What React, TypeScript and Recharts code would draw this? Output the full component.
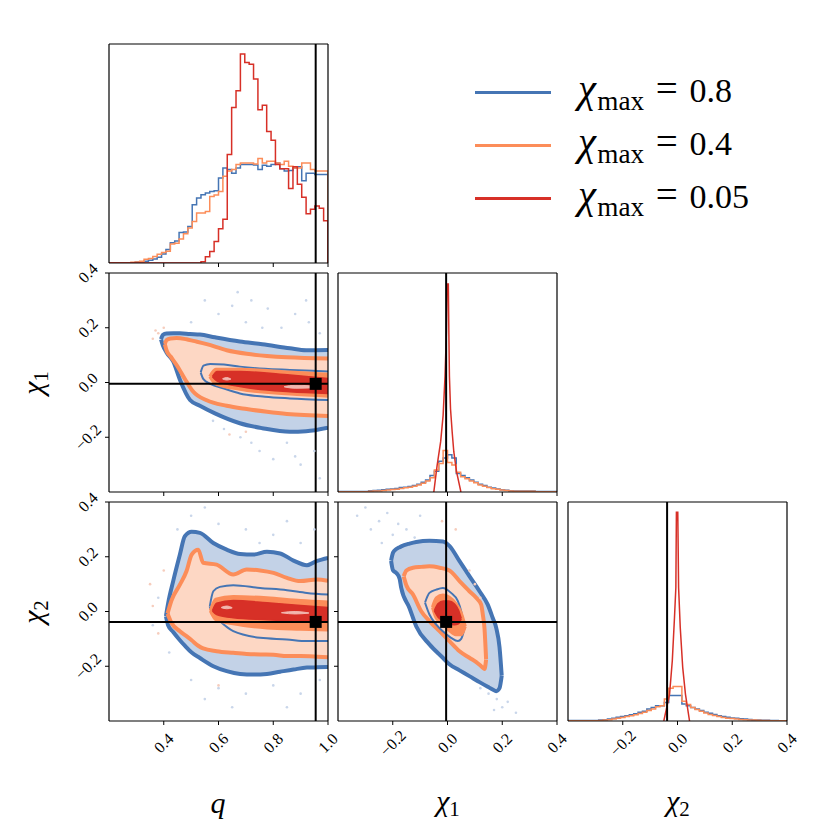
import React from "react";
import {Area, ComposedChart, Line, ReferenceLine, Scatter, XAxis, YAxis} from "recharts";

const FONT = '"Liberation Serif", "DejaVu Serif", serif';
const BLUE = "#4575b4";
const ORANGE = "#fc8d59";
const RED = "#d73027";
const BLUE_FILL = "#c3d2e7";
const ORANGE_FILL = "#fdd7c4";
const PINK = "#f2b6ae";

// axes
const Q_DOMAIN: [number, number] = [0.2, 1.0];
const CHI_DOMAIN: [number, number] = [-0.4, 0.4];
const HIST_DOMAIN: [number, number] = [0, 1];
const Q_TICKS = [0.4, 0.6, 0.8, 1.0];
const CHI_TICKS = [-0.2, 0.0, 0.2, 0.4];

// injected values
const TRUTH_Q = 0.955;
const TRUTH_CHI1 = -0.005;
const TRUTH_CHI2 = -0.038;

// histogram binning
const Q_BIN_START = 0.2;
const CHI_BIN_START = -0.4;
const BIN_WIDTH = 0.016;

const qBlue = [0, 0, 0, 0, 0, 0, 0.004, 0.006, 0.008, 0.012, 0.018, 0.026, 0.041, 0.062, 0.093, 0.1, 0.139, 0.142, 0.167, 0.266, 0.297, 0.312, 0.32, 0.327, 0.33, 0.388, 0.434, 0.427, 0.41, 0.434, 0.45, 0.45, 0.45, 0.447, 0.427, 0.446, 0.442, 0.45, 0.457, 0.43, 0.42, 0.422, 0.434, 0.44, 0.376, 0.41, 0.41, 0.404, 0.404, 0.404];
const qOrange = [0, 0, 0, 0, 0, 0.003, 0.005, 0.008, 0.017, 0.02, 0.03, 0.04, 0.048, 0.054, 0.087, 0.09, 0.11, 0.133, 0.16, 0.19, 0.228, 0.228, 0.235, 0.304, 0.31, 0.327, 0.396, 0.42, 0.427, 0.45, 0.457, 0.457, 0.457, 0.452, 0.477, 0.457, 0.465, 0.465, 0.457, 0.45, 0.465, 0.442, 0.434, 0.434, 0.457, 0.457, 0.427, 0.42, 0.42, 0.42];
const qRed = [0, 0, 0, 0, 0, 0, 0, 0, 0, 0, 0, 0, 0, 0, 0, 0, 0, 0, 0, 0, 0, 0.006, 0.029, 0.052, 0.098, 0.156, 0.2, 0.495, 0.71, 0.786, 0.954, 0.916, 0.908, 0.84, 0.7, 0.72, 0.6, 0.56, 0.45, 0.43, 0.43, 0.34, 0.44, 0.36, 0.3, 0.225, 0.246, 0.26, 0.25, 0.193];

const chi1Blue = [0.002, 0.002, 0.002, 0.002, 0.002, 0.002, 0.002, 0.006, 0.007, 0.008, 0.01, 0.012, 0.014, 0.016, 0.02, 0.022, 0.025, 0.03, 0.035, 0.045, 0.055, 0.075, 0.095, 0.14, 0.155, 0.17, 0.155, 0.085, 0.075, 0.065, 0.055, 0.045, 0.035, 0.03, 0.022, 0.018, 0.014, 0.01, 0.008, 0.006, 0.004, 0.004, 0.004, 0.004, 0.004, 0.002, 0.002, 0.002, 0.002, 0.002];
const chi1Orange = [0.001, 0.001, 0.001, 0.001, 0.001, 0.001, 0.001, 0.003, 0.004, 0.005, 0.007, 0.009, 0.011, 0.013, 0.016, 0.019, 0.022, 0.026, 0.032, 0.04, 0.05, 0.065, 0.1, 0.13, 0.19, 0.135, 0.123, 0.09, 0.07, 0.06, 0.05, 0.042, 0.032, 0.026, 0.02, 0.015, 0.012, 0.009, 0.007, 0.005, 0.003, 0.003, 0.003, 0.003, 0.003, 0.001, 0.001, 0.001, 0.001, 0.001];
const chi2Blue = [0.002, 0.002, 0.002, 0.002, 0.002, 0.002, 0.002, 0.004, 0.006, 0.009, 0.012, 0.017, 0.02, 0.024, 0.028, 0.033, 0.04, 0.045, 0.055, 0.062, 0.07, 0.07, 0.085, 0.116, 0.116, 0.116, 0.078, 0.07, 0.062, 0.055, 0.048, 0.04, 0.035, 0.03, 0.024, 0.02, 0.017, 0.014, 0.012, 0.01, 0.009, 0.007, 0.005, 0.004, 0.003, 0.003, 0.002, 0.002, 0.001, 0.001];
const chi2Orange = [0.001, 0.001, 0.001, 0.001, 0.001, 0.001, 0.001, 0.002, 0.004, 0.006, 0.009, 0.013, 0.016, 0.02, 0.024, 0.028, 0.034, 0.04, 0.048, 0.055, 0.065, 0.07, 0.1, 0.15, 0.157, 0.157, 0.09, 0.075, 0.062, 0.052, 0.044, 0.037, 0.03, 0.025, 0.02, 0.016, 0.013, 0.011, 0.009, 0.007, 0.006, 0.005, 0.004, 0.003, 0.002, 0.002, 0.001, 0.001, 0.001, 0.001];

// the chi_max = 0.05 run has very fine bins: read as a curve
const chi1RedX = [-0.05, -0.038, -0.025, -0.016, -0.009, -0.004, -0.0015, 0.003, 0.005, 0.007, 0.011, 0.017, 0.023, 0.033, 0.049];
const chi1RedY = [0, 0.12, 0.23, 0.35, 0.53, 0.73, 0.95, 0.95, 0.72, 0.53, 0.38, 0.275, 0.184, 0.093, 0];
const chi2RedX = [-0.05, -0.029, -0.019, -0.011, -0.006, -0.004, 0.001, 0.004, 0.01, 0.019, 0.029, 0.044];
const chi2RedY = [0, 0.123, 0.275, 0.473, 0.61, 0.953, 0.953, 0.61, 0.428, 0.245, 0.123, 0];

// contours: [x, lower y, upper y]
const blueOuterA = [[0.39, 0.157, 0.158], [0.397, 0.135, 0.174], [0.41, 0.11, 0.179], [0.435, 0.076, 0.18], [0.459, 0.01, 0.18], [0.496, -0.064, 0.177], [0.532, -0.085, 0.175], [0.587, -0.113, 0.165], [0.678, -0.149, 0.15], [0.76, -0.167, 0.14], [0.861, -0.18, 0.125], [0.92, -0.178, 0.118], [1.0, -0.165, 0.119]];
const orangeOuterA = [[0.404, 0.14, 0.141], [0.411, 0.115, 0.156], [0.425, 0.095, 0.161], [0.447, 0.064, 0.163], [0.483, 0.003, 0.158], [0.508, -0.034, 0.152], [0.557, -0.065, 0.14], [0.63, -0.085, 0.118], [0.703, -0.097, 0.105], [0.777, -0.107, 0.097], [0.85, -0.115, 0.092], [1.0, -0.122, 0.088]];
const blueInnerA = [[0.535, 0.036, 0.037], [0.545, 0.012, 0.062], [0.57, -0.005, 0.068], [0.62, -0.022, 0.066], [0.678, -0.04, 0.058], [0.77, -0.052, 0.05], [0.861, -0.058, 0.046], [1.0, -0.064, 0.04]];
const orangeInnerA = [[0.568, 0.021, 0.022], [0.59, -0.005, 0.048], [0.678, -0.025, 0.048], [0.861, -0.042, 0.038], [1.0, -0.05, 0.03]];
const redA = [[0.578, 0.021, 0.022], [0.595, 0.005, 0.04], [0.678, -0.015, 0.04], [0.861, -0.034, 0.027], [1.0, -0.04, 0.015]];
const pinkA1 = [[0.615, 0.013, 0.014], [0.63, 0.009, 0.018], [0.645, 0.012, 0.013]];
const pinkA2 = [[0.84, -0.016, -0.015], [0.88, -0.021, -0.01], [0.93, -0.02, -0.012], [0.95, -0.017, -0.016]];

const blueOuterB = [[0.408, -0.018, -0.017], [0.416, -0.05, 0.03], [0.4345, -0.075, 0.111], [0.459, -0.105, 0.208], [0.477, -0.125, 0.275], [0.502, -0.15, 0.291], [0.532, -0.17, 0.287], [0.581, -0.2, 0.25], [0.63, -0.218, 0.226], [0.679, -0.228, 0.21], [0.728, -0.23, 0.208], [0.777, -0.228, 0.218], [0.825, -0.22, 0.212], [0.874, -0.212, 0.186], [0.923, -0.205, 0.169], [0.96, -0.204, 0.185], [1.0, -0.203, 0.196]];
const orangeOuterB = [[0.414, -0.008, -0.007], [0.428, -0.041, 0.04], [0.459, -0.072, 0.098], [0.483, -0.09, 0.147], [0.502, -0.105, 0.208], [0.526, -0.125, 0.226], [0.544, -0.135, 0.178], [0.593, -0.145, 0.171], [0.654, -0.151, 0.135], [0.703, -0.155, 0.153], [0.752, -0.157, 0.15], [0.801, -0.158, 0.141], [0.85, -0.163, 0.123], [0.899, -0.163, 0.111], [0.96, -0.165, 0.117], [1.0, -0.167, 0.112]];
const blueInnerB = [[0.568, 0.017, 0.018], [0.581, -0.01, 0.074], [0.605, -0.035, 0.09], [0.654, -0.072, 0.096], [0.752, -0.096, 0.086], [0.85, -0.102, 0.078], [0.923, -0.108, 0.068], [1.0, -0.108, 0.062]];
const orangeInnerB = [[0.57, 0.002, 0.003], [0.59, -0.03, 0.045], [0.654, -0.045, 0.055], [0.777, -0.06, 0.05], [0.9, -0.065, 0.04], [1.0, -0.068, 0.035]];
const redB = [[0.578, 0.002, 0.003], [0.593, -0.011, 0.03], [0.654, -0.023, 0.04], [0.777, -0.03, 0.032], [0.9, -0.035, 0.022], [1.0, -0.037, 0.015]];
const pinkB1 = [[0.61, 0.014, 0.015], [0.63, 0.01, 0.02], [0.65, 0.013, 0.014]];
const pinkB2 = [[0.83, -0.005, -0.004], [0.88, -0.009, 0.0], [0.93, -0.006, -0.005]];

const blueOuterC = [[-0.206, 0.185, 0.186], [-0.199, 0.15, 0.215], [-0.187, 0.141, 0.228], [-0.175, 0.12, 0.235], [-0.169, 0.086, 0.238], [-0.139, 0.013, 0.248], [-0.114, -0.055, 0.254], [-0.066, -0.12, 0.258], [-0.017, -0.169, 0.256], [0.007, -0.193, 0.24], [0.044, -0.215, 0.184], [0.08, -0.236, 0.129], [0.117, -0.258, 0.074], [0.147, -0.275, 0.025], [0.165, -0.285, -0.023], [0.178, -0.291, -0.06], [0.19, -0.28, -0.13], [0.198, -0.235, -0.234]];
const orangeOuterC = [[-0.16, 0.128, 0.129], [-0.15, 0.095, 0.15], [-0.126, 0.062, 0.16], [-0.096, 0.001, 0.163], [-0.066, -0.035, 0.165], [-0.029, -0.072, 0.16], [0.007, -0.108, 0.15], [0.044, -0.145, 0.111], [0.08, -0.169, 0.074], [0.105, -0.185, 0.05], [0.123, -0.2, 0.025], [0.129, -0.205, -0.011], [0.135, -0.21, -0.06], [0.141, -0.176, -0.175]];
const blueInnerC = [[-0.082, 0.032, 0.033], [-0.066, -0.011, 0.068], [-0.041, -0.048, 0.08], [-0.017, -0.072, 0.086], [0.013, -0.096, 0.068], [0.038, -0.108, 0.038], [0.05, -0.1, 0.001], [0.062, -0.061, -0.06]];
const orangeInnerC = [[-0.055, 0.015, 0.016], [-0.041, -0.025, 0.05], [-0.017, -0.045, 0.06], [0.007, -0.07, 0.052], [0.03, -0.085, 0.03], [0.05, -0.085, -0.005], [0.065, -0.055, -0.054]];
const redC = [[-0.048, 0.002, 0.003], [-0.035, -0.02, 0.028], [-0.015, -0.035, 0.038], [0.005, -0.045, 0.038], [0.025, -0.048, 0.028], [0.04, -0.045, 0.005], [0.05, -0.026, -0.025]];

// faint posterior samples outside the contours
const dotsABlue = [[0.55, 0.3], [0.6, 0.25], [0.65, 0.28], [0.7, 0.22], [0.72, 0.3], [0.78, 0.27], [0.83, 0.2], [0.88, 0.25], [0.93, 0.22], [0.97, 0.18], [0.5, 0.22], [0.62, -0.17], [0.68, -0.2], [0.75, -0.25], [0.8, -0.28], [0.85, -0.22], [0.9, -0.3], [0.95, -0.25], [0.97, -0.35], [0.58, -0.14], [0.72, -0.22], [0.88, -0.27], [0.67, 0.33], [0.76, 0.2], [0.92, 0.3]];
const dotsARed = [[0.36, 0.16], [0.38, 0.18], [0.4, 0.2], [0.37, 0.19], [0.64, -0.19], [0.7, -0.18]];
const dotsBBlue = [[0.45, 0.3], [0.5, 0.35], [0.55, 0.38], [0.6, 0.32], [0.7, 0.3], [0.8, 0.28], [0.85, 0.33], [0.95, 0.3], [0.38, 0.05], [0.36, -0.05], [0.42, -0.15], [0.5, -0.25], [0.6, -0.28], [0.7, -0.3], [0.8, -0.27], [0.9, -0.3], [0.97, -0.25], [0.55, -0.32], [0.65, -0.35], [0.85, -0.35], [0.75, 0.25], [0.9, 0.25]];
const dotsBRed = [[0.36, 0.02], [0.38, -0.08], [0.35, 0.1], [0.4, 0.15], [0.6, -0.27]];
const dotsCBlue = [[-0.33, 0.35], [-0.3, 0.38], [-0.28, 0.3], [-0.25, 0.33], [-0.22, 0.36], [-0.2, 0.28], [-0.18, 0.32], [-0.15, 0.3], [-0.12, 0.27], [-0.24, 0.25], [-0.1, 0.35], [0.15, -0.3], [0.18, -0.32], [0.2, -0.35], [0.22, -0.33], [0.17, -0.36], [0.12, -0.28], [0.25, -0.37]];
const dotsCRed = [[0.08, 0.15], [0.1, 0.1], [0.12, 0.05], [-0.02, 0.33], [0.03, 0.3]];

const LEGEND_VALUES = ["0.8", "0.4", "0.05"];
const LEGEND_COLORS = [BLUE, ORANGE, RED];

// layout of the 3x3 grid
const COL_X = [109, 338, 568];
const ROW_Y = [44, 273, 502];
const SIZE = 219;
const PAD_L = 50;
const PAD_B = 50;
const PAD_T = 20;
const PAD_R = 20;

const TICK_STYLE = {fontSize: 16, fontFamily: FONT};

const fmt = (v: number) => v.toFixed(1).replace("-", "\u2212");

const renderXTick = (props: any) => {
  const {x, y, payload} = props;
  const cy = y + 16;
  return (
    <text x={x} y={cy} transform={`rotate(-45 ${x} ${cy})`} textAnchor="middle" dominantBaseline="central" style={TICK_STYLE} fill="#000">
      {fmt(payload.value)}
    </text>
  );
};

const renderYTick = (props: any) => {
  const {x, y, payload} = props;
  const cx = x - 15;
  return (
    <text x={cx} y={y} transform={`rotate(-45 ${cx} ${y})`} textAnchor="middle" dominantBaseline="central" style={TICK_STYLE} fill="#000">
      {fmt(payload.value)}
    </text>
  );
};

const renderNone = () => <g />;

function stepData(values: number[], start: number) {
  const end = start + values.length * BIN_WIDTH;
  return [
    {x: start, y: 0},
    ...values.map((v, i) => ({x: start + i * BIN_WIDTH, y: v})),
    {x: end, y: values[values.length - 1]},
    {x: end, y: 0},
  ];
}

const curveData = (xs: number[], ys: number[]) => xs.map((x, i) => ({x, y: ys[i]}));
const bandData = (rows: number[][]) => rows.map(([x, lo, hi]) => ({x, band: [lo, hi]}));
const dotData = (rows: number[][]) => rows.map(([x, y]) => ({x, y}));

function stepLine(key: string, values: number[], start: number, color: string) {
  return (
    <Line key={key} data={stepData(values, start)} dataKey="y" type="stepAfter" stroke={color} strokeWidth={1.5} dot={false} activeDot={false} isAnimationActive={false} />
  );
}

function contour(key: string, rows: number[][], fill: string, stroke: string, width: number) {
  return (
    <Area key={key} data={bandData(rows)} dataKey="band" type="monotone" fill={fill} fillOpacity={1} stroke={stroke} strokeWidth={width} dot={false} activeDot={false} isAnimationActive={false} />
  );
}

function dots(key: string, rows: number[][], color: string) {
  return (
    <Scatter key={key} data={dotData(rows)} dataKey="y" isAnimationActive={false} shape={(p: any) => <circle cx={p.cx} cy={p.cy} r={1.3} fill={color} />} />
  );
}

function truthMark(x: number, y: number) {
  return (
    <Scatter key="truth" data={[{x, y}]} dataKey="y" isAnimationActive={false} shape={(p: any) => <rect x={p.cx - 6} y={p.cy - 6} width={12} height={12} fill="#000" />} />
  );
}

type PanelProps = {
  col: number;
  row: number;
  xDomain: [number, number];
  yDomain: [number, number];
  xTicks: number[];
  yTicks: number[];
  xLabels: boolean;
  yLabels: boolean;
  yTickMarks: boolean;
  children: React.ReactNode;
};

function Panel({col, row, xDomain, yDomain, xTicks, yTicks, xLabels, yLabels, yTickMarks, children}: PanelProps) {
  return (
    <div style={{position: "absolute", left: COL_X[col] - PAD_L, top: ROW_Y[row] - PAD_T}}>
      <ComposedChart width={SIZE + PAD_L + PAD_R} height={SIZE + PAD_T + PAD_B} margin={{top: PAD_T, right: PAD_R, left: 0, bottom: 0}}>
        <XAxis dataKey="x" type="number" domain={xDomain} ticks={xTicks} interval={0} allowDataOverflow height={PAD_B}
          axisLine={{stroke: "#000", strokeWidth: 1.2}} tickLine={{stroke: "#000"}} tickSize={4} tick={xLabels ? renderXTick : renderNone} />
        <YAxis type="number" domain={yDomain} ticks={yTicks} interval={0} allowDataOverflow width={PAD_L}
          axisLine={{stroke: "#000", strokeWidth: 1.2}} tickLine={yTickMarks ? {stroke: "#000"} : false} tickSize={yTickMarks ? 4 : 0} tick={yLabels ? renderYTick : renderNone} />
        {children}
        {/* frame: top and right edges of the axes box */}
        <ReferenceLine key="frame-top" y={yDomain[1]} stroke="#000" strokeWidth={1.2} />
        <ReferenceLine key="frame-right" x={xDomain[1]} stroke="#000" strokeWidth={1.2} />
      </ComposedChart>
    </div>
  );
}

const truthX = (v: number) => <ReferenceLine key="tx" x={v} stroke="#000" strokeWidth={2} />;
const truthY = (v: number) => <ReferenceLine key="ty" y={v} stroke="#000" strokeWidth={2} />;

function Chi({sub}: {sub: string}) {
  return (
    <span>
      <span style={{fontStyle: "italic"}}>χ</span>
      <span style={{fontSize: "0.7em", verticalAlign: "-0.25em"}}>{sub}</span>
    </span>
  );
}

export default function App() {
  return (
    <div style={{position: "absolute", left: 0, top: 0, width: 831, height: 831, background: "#fff", fontFamily: FONT, overflow: "hidden"}}>
      {/* q marginal */}
      <Panel col={0} row={0} xDomain={Q_DOMAIN} yDomain={HIST_DOMAIN} xTicks={Q_TICKS} yTicks={[]} xLabels={false} yLabels={false} yTickMarks={false}>
        {stepLine("qb", qBlue, Q_BIN_START, BLUE)}
        {stepLine("qo", qOrange, Q_BIN_START, ORANGE)}
        {stepLine("qr", qRed, Q_BIN_START, RED)}
        {truthX(TRUTH_Q)}
      </Panel>

      {/* q vs chi1 */}
      <Panel col={0} row={1} xDomain={Q_DOMAIN} yDomain={CHI_DOMAIN} xTicks={Q_TICKS} yTicks={CHI_TICKS} xLabels={false} yLabels={true} yTickMarks={true}>
        {dots("ab", dotsABlue, "#c9d6ea")}
        {dots("ar", dotsARed, "#f6cdbd")}
        {contour("a1", blueOuterA, BLUE_FILL, BLUE, 4)}
        {contour("a2", orangeOuterA, ORANGE_FILL, ORANGE, 4)}
        {contour("a3", blueInnerA, "none", BLUE, 2)}
        {contour("a4", orangeInnerA, ORANGE, ORANGE, 3)}
        {contour("a5", redA, RED, RED, 1.5)}
        {contour("a6", pinkA1, PINK, PINK, 1)}
        {contour("a7", pinkA2, PINK, PINK, 1)}
        {truthX(TRUTH_Q)}
        {truthY(TRUTH_CHI1)}
        {truthMark(TRUTH_Q, TRUTH_CHI1)}
      </Panel>

      {/* q vs chi2 */}
      <Panel col={0} row={2} xDomain={Q_DOMAIN} yDomain={CHI_DOMAIN} xTicks={Q_TICKS} yTicks={CHI_TICKS} xLabels={true} yLabels={true} yTickMarks={true}>
        {dots("bb", dotsBBlue, "#c9d6ea")}
        {dots("br", dotsBRed, "#f6cdbd")}
        {contour("b1", blueOuterB, BLUE_FILL, BLUE, 4)}
        {contour("b2", orangeOuterB, ORANGE_FILL, ORANGE, 4)}
        {contour("b3", blueInnerB, "none", BLUE, 2)}
        {contour("b4", orangeInnerB, ORANGE, ORANGE, 3)}
        {contour("b5", redB, RED, RED, 1.5)}
        {contour("b6", pinkB1, PINK, PINK, 1)}
        {contour("b7", pinkB2, PINK, PINK, 1)}
        {truthX(TRUTH_Q)}
        {truthY(TRUTH_CHI2)}
        {truthMark(TRUTH_Q, TRUTH_CHI2)}
      </Panel>

      {/* chi1 marginal */}
      <Panel col={1} row={1} xDomain={CHI_DOMAIN} yDomain={HIST_DOMAIN} xTicks={CHI_TICKS} yTicks={[]} xLabels={false} yLabels={false} yTickMarks={false}>
        {stepLine("c1b", chi1Blue, CHI_BIN_START, BLUE)}
        {stepLine("c1o", chi1Orange, CHI_BIN_START, ORANGE)}
        <Line key="c1r" data={curveData(chi1RedX, chi1RedY)} dataKey="y" type="linear" stroke={RED} strokeWidth={1.5} dot={false} activeDot={false} isAnimationActive={false} />
        {truthX(TRUTH_CHI1)}
      </Panel>

      {/* chi1 vs chi2 */}
      <Panel col={1} row={2} xDomain={CHI_DOMAIN} yDomain={CHI_DOMAIN} xTicks={CHI_TICKS} yTicks={CHI_TICKS} xLabels={true} yLabels={false} yTickMarks={true}>
        {dots("cb", dotsCBlue, "#c9d6ea")}
        {dots("cr", dotsCRed, "#f6cdbd")}
        {contour("c1", blueOuterC, BLUE_FILL, BLUE, 4)}
        {contour("c2", orangeOuterC, ORANGE_FILL, ORANGE, 4)}
        {contour("c3", blueInnerC, "none", BLUE, 2)}
        {contour("c4", orangeInnerC, ORANGE, ORANGE, 3)}
        {contour("c5", redC, RED, RED, 1.5)}
        {truthX(TRUTH_CHI1)}
        {truthY(TRUTH_CHI2)}
        {truthMark(TRUTH_CHI1, TRUTH_CHI2)}
      </Panel>

      {/* chi2 marginal */}
      <Panel col={2} row={2} xDomain={CHI_DOMAIN} yDomain={HIST_DOMAIN} xTicks={CHI_TICKS} yTicks={[]} xLabels={true} yLabels={false} yTickMarks={false}>
        {stepLine("c2b", chi2Blue, CHI_BIN_START, BLUE)}
        {stepLine("c2o", chi2Orange, CHI_BIN_START, ORANGE)}
        <Line key="c2r" data={curveData(chi2RedX, chi2RedY)} dataKey="y" type="linear" stroke={RED} strokeWidth={1.5} dot={false} activeDot={false} isAnimationActive={false} />
        {truthX(TRUTH_CHI2)}
      </Panel>

      {/* axis names */}
      <div style={{position: "absolute", left: 218, top: 803, transform: "translate(-50%, -50%)", fontSize: 30, fontStyle: "italic"}}>q</div>
      <div style={{position: "absolute", left: 448, top: 803, transform: "translate(-50%, -50%)", fontSize: 30}}><Chi sub="1" /></div>
      <div style={{position: "absolute", left: 678, top: 803, transform: "translate(-50%, -50%)", fontSize: 30}}><Chi sub="2" /></div>
      <div style={{position: "absolute", left: 35, top: 383, transform: "translate(-50%, -50%) rotate(-90deg)", fontSize: 30, whiteSpace: "nowrap"}}><Chi sub="1" /></div>
      <div style={{position: "absolute", left: 35, top: 612, transform: "translate(-50%, -50%) rotate(-90deg)", fontSize: 30, whiteSpace: "nowrap"}}><Chi sub="2" /></div>

      {/* legend */}
      {LEGEND_VALUES.map((v, i) => (
        <div key={v}>
          <div style={{position: "absolute", left: 475, top: 92 + i * 53 - 1.5, width: 76, height: 3, background: LEGEND_COLORS[i]}} />
          <div style={{position: "absolute", left: 578, top: 92 + i * 53 - 21, fontSize: 34, lineHeight: "36px", whiteSpace: "nowrap"}}>
            <span style={{fontStyle: "italic", fontSize: "1.2em"}}>χ</span>
            <span style={{fontSize: "0.8em", verticalAlign: "-0.3em", marginLeft: "0.05em"}}>max</span>
            <span style={{margin: "0 0.3em", fontSize: "1.15em"}}>=</span>
            <span>{v}</span>
          </div>
        </div>
      ))}
    </div>
  );
}
